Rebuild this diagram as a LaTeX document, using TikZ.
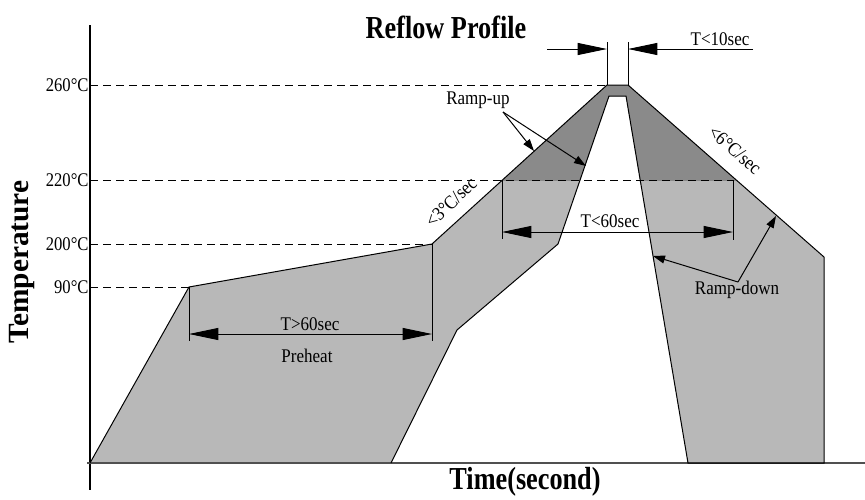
\documentclass[tikz,border=0pt]{standalone}
\usepackage{fontspec}
\usepackage{graphicx}
\setmainfont{Liberation Serif}
\usetikzlibrary{arrows.meta}

\definecolor{lightfill}{RGB}{184,184,184}
\definecolor{darkfill}{RGB}{138,138,138}

% condensed text, as in the original artwork
\newcommand{\cnd}[2][0.88]{\scalebox{#1}[1]{#2}}

\tikzset{every picture/.style={line width=0.75pt}}
\tikzset{
  lbl/.style={inner sep=0.75pt, font=\fontsize{14.5}{16}\selectfont},
  bigtitle/.style={inner sep=0.75pt, font=\fontsize{24}{28}\selectfont\bfseries},
  level/.style={dash pattern={on 6pt off 3.75pt}},
  dimline/.style={{Triangle[length=22pt,width=9pt]}-{Triangle[length=22pt,width=9pt]}},
  inarrow/.style={-{Triangle[length=22pt,width=9pt]}},
  pointer/.style={-{Triangle[length=9pt,width=6pt]}}
}

\begin{document}
\begin{tikzpicture}[x=0.75pt,y=0.75pt,yscale=-1,xscale=1]
\path[use as bounding box] (0,0) rectangle (865,500);

% profile corners
\coordinate (start) at (90,463);
\coordinate (pre90) at (189,287);
\coordinate (pre200) at (432,244);
\coordinate (peakL) at (607,85);
\coordinate (peakR) at (628,85);
\coordinate (coolE) at (824,257);
\coordinate (endR) at (824,463);
\coordinate (endB) at (688,463);
\coordinate (inTR) at (626,96);
\coordinate (inTL) at (609,96);
\coordinate (in200) at (558,244);
\coordinate (in330) at (457,330);
\coordinate (inB) at (391,463);

%Profile fill
\fill[lightfill] (start) -- (pre90) -- (pre200) -- (peakL) -- (peakR) -- (coolE) -- (endR) -- (endB) -- (inTR) -- (inTL) -- (in200) -- (in330) -- (inB) -- cycle;
%Reflow zone above 220
\begin{scope}
\clip (0,0) rectangle (865,180);
\fill[darkfill] (start) -- (pre90) -- (pre200) -- (peakL) -- (peakR) -- (coolE) -- (endR) -- (endB) -- (inTR) -- (inTL) -- (in200) -- (in330) -- (inB) -- cycle;
\end{scope}

%Axes
\draw[line width=1pt] (90,25) -- (90,490);
\draw[line width=1pt, color={rgb, 255:red, 80; green, 80; blue, 80}] (87,463) -- (865,463);

%Dashed levels
\draw[level] (90,85) -- (peakL);
\draw[level] (90,180) -- (733,180);
\draw[level] (90,244) -- (pre200);
\draw[level] (90,287) -- (pre90);

%Profile outline
\draw (start) -- (pre90) -- (pre200) -- (peakL) -- (peakR) -- (coolE) -- (endR) -- (endB) -- (inTR) -- (inTL) -- (in200) -- (in330) -- (inB);

%Preheat dimension
\coordinate (preA) at (189,334);
\coordinate (preB) at (432,334);
\draw (pre90) -- (189,341);
\draw (pre200) -- (432,341);
\draw[dimline] (preA) -- (preB);

%T<60sec dimension
\coordinate (liqA) at (502,232);
\coordinate (liqB) at (733,232);
\draw (502,180) -- (502,239);
\draw (733,180) -- (733,240);
\draw[dimline] (liqA) -- (liqB);

%T<10sec dimension
\coordinate (pkA) at (607,49);
\coordinate (pkB) at (628,49);
\draw (peakL) -- (607,42);
\draw (peakR) -- (628,42);
\draw[inarrow] (547,49) -- (pkA);
\draw[inarrow] (753,49) -- (pkB);

% Text Node
\node[bigtitle] (title) at (446,27) {\cnd[0.82]{Reflow Profile}};
% Text Node
\node[bigtitle, font=\fontsize{22}{26}\selectfont\bfseries, rotate=90] (ylab) at (22,262) {Temperature};
% Text Node
\node[bigtitle] (xlab) at (525,482) {\cnd[0.82]{Time(second)}};

% Text Node
\node[lbl, anchor=east] (t260) at (90,85) {\cnd[0.86]{260°C}};
\node[lbl, anchor=east] (t220) at (90,180) {\cnd[0.86]{220°C}};
\node[lbl, anchor=east] (t200) at (90,244) {\cnd[0.86]{200°C}};
\node[lbl, anchor=east] (t90) at (90,287) {\cnd[0.86]{90°C}};

% Text Node
\node[lbl] (pretime) at (310,324) {\cnd{T>60sec}};
\node[lbl] (preheat) at (307,356) {\cnd{Preheat}};
\node[lbl] (liqtime) at (610,221) {\cnd{T<60sec}};
\node[lbl] (pktime) at (720,39) {\cnd{T<10sec}};
\node[lbl, rotate=44] (upslope) at (451,202) {\cnd{<3°C/sec}};
\node[lbl, rotate=-41] (downslope) at (735,150) {\cnd{<6°C/sec}};

% Ramp-up pointers
\node[lbl] (rampup) at (478,100) {\cnd{Ramp-up}};
\draw[pointer] (503,112) -- (534,151);
\draw[pointer] (503,112) -- (586,166);

% Ramp-down pointers
\node[lbl] (rampdown) at (737,290) {\cnd{Ramp-down}};
\draw[pointer] (738,282) -- (653,256);
\draw[pointer] (738,282) -- (776,216);

\end{tikzpicture}
\end{document}
